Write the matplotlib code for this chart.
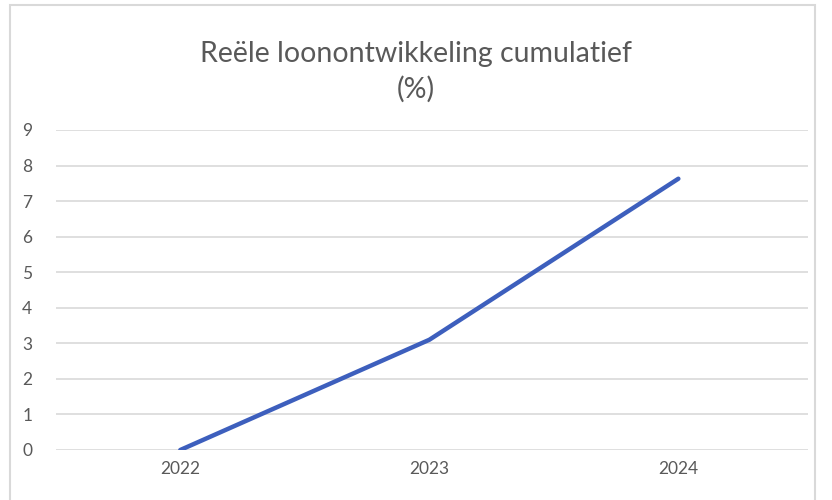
import matplotlib.pyplot as plt
from matplotlib.patches import Rectangle

years = ["2022", "2023", "2024"]
values = [0.0, 3.1, 7.63]
y_ticks = list(range(0, 10))

plt.rcParams["font.family"] = ["Lato", "DejaVu Sans"]

fig = plt.figure(figsize=(8.32, 5.0), dpi=100)
ax = fig.add_axes([0.067, 0.1, 0.904, 0.64])

x = list(range(len(years)))
ax.plot(x, values, color="#3d5fbd", linewidth=3.2, solid_capstyle="round")

ax.set_xlim(-0.5, 2.52)
ax.set_ylim(0, 9)
ax.set_yticks(y_ticks)
ax.set_xticks(x)
ax.set_xticklabels(years)
ax.grid(axis="y", color="#d9d9d9", linewidth=1.2)
ax.set_axisbelow(True)
for s in ax.spines.values():
    s.set_visible(False)
ax.tick_params(length=0, labelsize=12.5, labelcolor="#595959", pad=8)
ax.tick_params(axis="y", pad=17)

fig.text(0.5, 0.857, "Reële loonontwikkeling cumulatief\n(%)", ha="center", va="center",
         fontsize=20.5, color="#595959", linespacing=1.4)

fig.patches.append(Rectangle((0.012, -0.01), 0.968, 1.0, transform=fig.transFigure,
                             fill=False, edgecolor="#d9d9d9", linewidth=1.5))

fig.savefig("out.png", dpi=100)
